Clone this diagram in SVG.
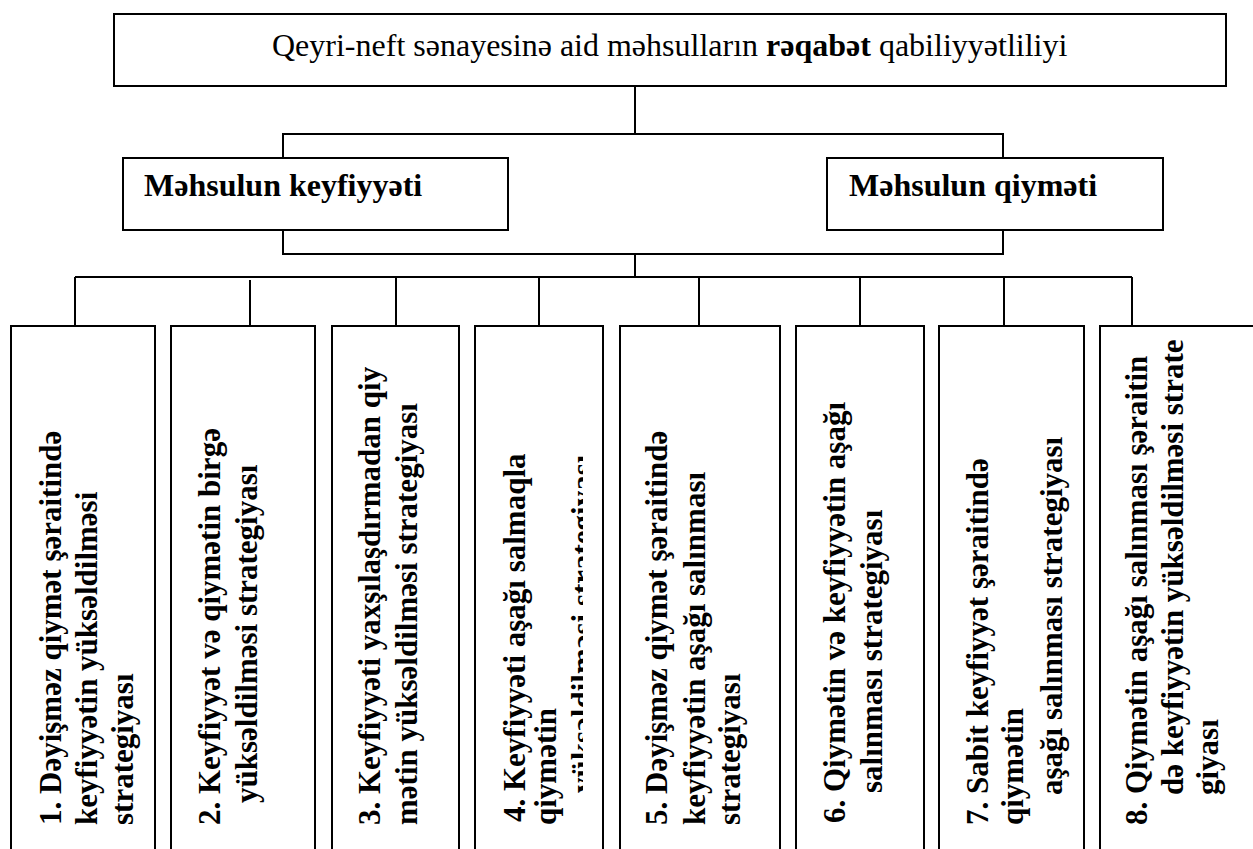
<svg xmlns="http://www.w3.org/2000/svg" width="1253" height="849" viewBox="0 0 1253 849">
  <defs>
    <style>
      .box { fill: #fff; stroke: #000; stroke-width: 2; }
      .con { fill: none; stroke: #000; stroke-width: 2; }
      .t { font-family: "Liberation Serif", "Times New Roman", serif; fill: #000; }
      .title { font-size: 32px; }
      .mid { font-size: 32px; font-weight: bold; }
      .v { font-size: 31px; font-weight: bold; }
    </style>
    <clipPath id="clip4">
      <rect x="470" y="320" width="113" height="540"/>
    </clipPath>
  </defs>
  <rect width="1253" height="849" fill="#fff"/>

  <g id="connectors">
    <line class="con" x1="635" y1="86" x2="635" y2="134"/>
    <polyline class="con" points="283,158 283,134 1003,134 1003,158"/>
    <polyline class="con" points="283,230 283,254 1003,254 1003,230"/>
    <line class="con" x1="635" y1="254" x2="635" y2="277"/>
    <line class="con" x1="75" y1="277" x2="1132" y2="277"/>
    <line class="con" x1="75" y1="277" x2="75" y2="326"/>
    <line class="con" x1="250" y1="280" x2="250" y2="328"/>
    <line class="con" x1="396" y1="277" x2="396" y2="326"/>
    <line class="con" x1="539" y1="277" x2="539" y2="326"/>
    <line class="con" x1="699" y1="277" x2="699" y2="326"/>
    <line class="con" x1="860" y1="277" x2="860" y2="326"/>
    <line class="con" x1="1004" y1="277" x2="1004" y2="326"/>
    <line class="con" x1="1132" y1="277" x2="1132" y2="326"/>
  </g>

  <g id="top">
    <rect class="box" x="114" y="14" width="1112" height="72"/>
    <text class="t title" x="272" y="56">Qeyri-neft sənayesinə aid məhsulların <tspan font-weight="bold">rəqabət</tspan> qabiliyyətliliyi</text>
  </g>

  <g id="quality">
    <rect class="box" x="123" y="158" width="385" height="72"/>
    <text class="t mid" x="144" y="196">Məhsulun keyfiyyəti</text>
  </g>

  <g id="price">
    <rect class="box" x="827" y="158" width="336" height="72"/>
    <text class="t mid" x="849" y="196">Məhsulun qiyməti</text>
  </g>

  <g id="s1">
    <rect class="box" x="11" y="326" width="144" height="540"/>
    <text class="t v" transform="translate(61,825) rotate(-90)">1. Dəyişməz qiymət şəraitində</text>
    <text class="t v" transform="translate(97,825) rotate(-90)">keyfiyyətin yüksəldilməsi</text>
    <text class="t v" transform="translate(133,825) rotate(-90)">strategiyası</text>
  </g>

  <g id="s2">
    <rect class="box" x="171" y="326" width="144" height="540"/>
    <text class="t v" transform="translate(220,825) rotate(-90)">2. Keyfiyyət və qiymətin birgə</text>
    <text class="t v" transform="translate(257,803) rotate(-90)">yüksəldilməsi strategiyası</text>
  </g>

  <g id="s3">
    <rect class="box" x="332" y="326" width="127" height="540"/>
    <text class="t v" transform="translate(380,825) rotate(-90)">3. Keyfiyyəti yaxşılaşdırmadan qiy</text>
    <text class="t v" transform="translate(417,825) rotate(-90)">mətin yüksəldilməsi strategiyası</text>
  </g>

  <g id="s4">
    <rect class="box" x="475" y="326" width="128" height="540"/>
    <text class="t v" transform="translate(525,822) rotate(-90)">4. Keyfiyyəti aşağı salmaqla</text>
    <text class="t v" transform="translate(556,825) rotate(-90)">qiymətin</text>
    <g clip-path="url(#clip4)">
      <text class="t v" transform="translate(593,793) rotate(-90)">yüksəldilməsi strategiyası</text>
    </g>
  </g>

  <g id="s5">
    <rect class="box" x="620" y="326" width="160" height="540"/>
    <text class="t v" transform="translate(667,825) rotate(-90)">5. Dəyişməz qiymət şəraitində</text>
    <text class="t v" transform="translate(705,825) rotate(-90)">keyfiyyətin aşağı salınması</text>
    <text class="t v" transform="translate(740,825) rotate(-90)">strategiyası</text>
  </g>

  <g id="s6">
    <rect class="box" x="796" y="326" width="128" height="540"/>
    <text class="t v" transform="translate(845,823) rotate(-90)">6. Qiymətin və keyfiyyətin aşağı</text>
    <text class="t v" transform="translate(882,793) rotate(-90)">salınması strategiyası</text>
  </g>

  <g id="s7">
    <rect class="box" x="939" y="326" width="145" height="540"/>
    <text class="t v" transform="translate(988,825) rotate(-90)">7. Sabit keyfiyyət şəraitində</text>
    <text class="t v" transform="translate(1023,825) rotate(-90)">qiymətin</text>
    <text class="t v" transform="translate(1062,795) rotate(-90)">aşağı salınması strategiyası</text>
  </g>

  <g id="s8">
    <rect class="box" x="1100" y="326" width="170" height="540"/>
    <text class="t v" transform="translate(1147,825) rotate(-90)">8. Qiymətin aşağı salınması şəraitin</text>
    <text class="t v" transform="translate(1183,795) rotate(-90)">də keyfiyyətin yüksəldilməsi strate</text>
    <text class="t v" transform="translate(1218,795) rotate(-90)">giyası</text>
  </g>
</svg>
